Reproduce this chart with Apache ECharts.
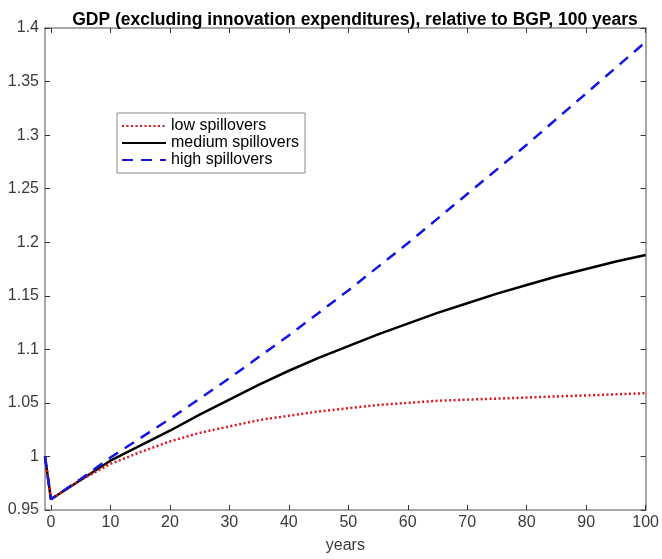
<!DOCTYPE html>
<html>
<head>
<meta charset="utf-8">
<script src="https://cdn.jsdelivr.net/npm/echarts@6/dist/echarts.min.js"></script>
<style>
  html, body { margin: 0; padding: 0; background: #fff; }
  #chart { width: 662px; height: 559px; }
</style>
</head>
<body>
<div id="chart"></div>
<script>
// Simulation horizon in years (-1 is the pre-shock balanced growth path)
const years = [-1, 0, 5, 10, 15, 20, 25, 30, 35, 40, 45, 50, 55, 60, 65, 70, 75, 80, 85, 90, 95, 100];

// GDP excluding innovation expenditures, relative to BGP
const lowSpill = [1.000, 0.960, 0.978, 0.993, 1.004, 1.014, 1.022, 1.028, 1.034, 1.038, 1.042, 1.045, 1.048, 1.050, 1.052, 1.053, 1.054, 1.055, 1.056, 1.057, 1.058, 1.059];
const medSpill = [1.000, 0.960, 0.978, 0.996, 1.010, 1.024, 1.039, 1.053, 1.067, 1.080, 1.092, 1.103, 1.114, 1.124, 1.134, 1.143, 1.152, 1.160, 1.168, 1.175, 1.182, 1.188];
const highSpill = [1.000, 0.960, 0.979, 0.999, 1.017, 1.035, 1.054, 1.073, 1.093, 1.113, 1.134, 1.155, 1.177, 1.199, 1.222, 1.245, 1.268, 1.291, 1.315, 1.339, 1.363, 1.387];

const seriesNames = ['low spillovers', 'medium spillovers', 'high spillovers'];
const xTicks = [0, 10, 20, 30, 40, 50, 60, 70, 80, 90, 100];

const pair = (ys) => years.map((x, i) => [x, ys[i]]);

const axisGray = '#8a8a8a';
const labelColor = '#3a3a3a';
const fontFamily = 'Liberation Sans, Arial, Helvetica, sans-serif';

const chart = echarts.init(document.getElementById('chart'), null, { renderer: 'canvas' });

chart.setOption({
  backgroundColor: '#ffffff',
  animation: false,
  title: {
    text: 'GDP (excluding innovation expenditures), relative to BGP, 100 years',
    left: 350,
    textAlign: 'center',
    top: 6,
    textStyle: { fontFamily, fontSize: 17.5, fontWeight: 'bold', color: '#000' }
  },
  grid: { left: 45, right: 15, top: 28, bottom: 36, containLabel: false },
  legend: {
    orient: 'vertical',
    left: 117,
    top: 113,
    itemWidth: 44,
    itemHeight: 10,
    itemGap: 1,
    padding: [5, 6, 5, 4],
    borderColor: '#8a8a8a',
    borderWidth: 1,
    backgroundColor: '#fff',
    itemStyle: { opacity: 0 },
    data: seriesNames,
    textStyle: { fontFamily, fontSize: 16, lineHeight: 14, color: '#000' }
  },
  xAxis: [
    {
      type: 'value', min: -1, max: 100,
      name: 'years', nameLocation: 'middle', nameGap: 28,
      nameTextStyle: { fontFamily, fontSize: 16, color: labelColor },
      axisLine: { show: true, onZero: false, lineStyle: { color: axisGray, width: 1.5 } },
      axisTick: { show: true, inside: true, length: 5, customValues: xTicks, lineStyle: { color: '#333', width: 1 } },
      axisLabel: { customValues: xTicks, margin: 5, fontFamily, fontSize: 16, color: labelColor },
      splitLine: { show: false }
    },
    {
      type: 'value', min: -1, max: 100, position: 'top',
      axisLine: { show: true, onZero: false, lineStyle: { color: axisGray, width: 1.5 } },
      axisTick: { show: true, inside: true, length: 5, customValues: xTicks, lineStyle: { color: '#333', width: 1 } },
      axisLabel: { show: false },
      splitLine: { show: false }
    }
  ],
  yAxis: [
    {
      type: 'value', min: 0.95, max: 1.4, interval: 0.05,
      axisLine: { show: true, onZero: false, lineStyle: { color: axisGray, width: 1.5 } },
      axisTick: { show: true, inside: true, length: 5, lineStyle: { color: '#333', width: 1 } },
      axisLabel: {
        margin: 6, fontFamily, fontSize: 16, color: labelColor,
        formatter: (v) => String(+v.toFixed(2))
      },
      splitLine: { show: false }
    },
    {
      type: 'value', min: 0.95, max: 1.4, interval: 0.05, position: 'right',
      axisLine: { show: true, onZero: false, lineStyle: { color: axisGray, width: 1.5 } },
      axisTick: { show: true, inside: true, length: 5, lineStyle: { color: '#333', width: 1 } },
      axisLabel: { show: false },
      splitLine: { show: false }
    }
  ],
  series: [
    {
      name: seriesNames[0], type: 'line', data: pair(lowSpill),
      showSymbol: false, symbol: 'none', z: 3,
      lineStyle: { color: '#e0141e', width: 2.5, type: [2, 2.5] },
      itemStyle: { color: '#e0141e' }
    },
    {
      name: seriesNames[1], type: 'line', data: pair(medSpill),
      showSymbol: false, symbol: 'none', z: 2,
      lineStyle: { color: '#000000', width: 2.5, type: 'solid' },
      itemStyle: { color: '#000000' }
    },
    {
      name: seriesNames[2], type: 'line', data: pair(highSpill),
      showSymbol: false, symbol: 'none', z: 4,
      lineStyle: { color: '#1414e6', width: 2.5, type: [11, 8] },
      itemStyle: { color: '#1414e6' }
    }
  ]
});
</script>
</body>
</html>
